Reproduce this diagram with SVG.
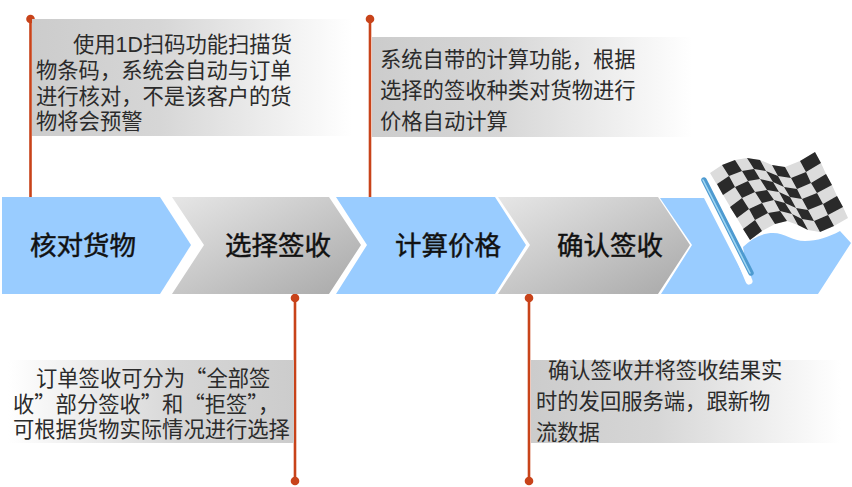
<svg xmlns="http://www.w3.org/2000/svg" width="852" height="487" viewBox="0 0 852 487">
<style>
text{font-family:"Noto Sans CJK SC","Liberation Sans",sans-serif;fill:#2b2b2b}
.d{font-size:21.3px}
.la{font-family:"Liberation Sans",sans-serif}
.t{font-size:26.5px;fill:#111;stroke:#111;stroke-width:.45}
.b{fill:#9cf}
.g{fill:url(#cg)}
.l{stroke:#c8431a;stroke-width:2.6;fill:none}
.p{fill:#c8431a}
</style>
<defs>
<linearGradient id="gr"><stop offset="0" stop-color="#ccc"/><stop offset=".4" stop-color="#d6d6d6"/><stop offset="1" stop-color="#fff"/></linearGradient>
<linearGradient id="gl"><stop offset="0" stop-color="#fff"/><stop offset=".6" stop-color="#d6d6d6"/><stop offset="1" stop-color="#ccc"/></linearGradient>
<linearGradient id="cg" x1="0" y1="0" x2="1" y2="1"><stop offset="0" stop-color="#e6e6e6"/><stop offset="1" stop-color="#a8a8a8"/></linearGradient>
<filter id="soft" x="-5%" y="-5%" width="110%" height="110%"><feGaussianBlur stdDeviation=".55"/></filter>
</defs>
<rect width="852" height="487" fill="#fff"/>
<g id="connectors">
<path class="l" d="M30.5 19V197M370 19V197M295 298V481M529 298V481"/>
<circle class="p" cx="30.5" cy="19" r="4.3"/><circle class="p" cx="370" cy="19" r="4.3"/>
<circle class="p" cx="295" cy="298" r="4.3"/><circle class="p" cx="295" cy="481" r="4.3"/>
<circle class="p" cx="529" cy="298" r="4.3"/><circle class="p" cx="529" cy="481" r="4.3"/>
</g>
<g id="note1"><rect x="32" y="19" width="320" height="117" fill="url(#gr)"/>
<text class="d"><tspan x="73" y="52">使用<tspan class="la">1D</tspan>扫码功能扫描货</tspan><tspan x="36" y="78">物条码，系统会自动与订单</tspan><tspan x="36" y="104">进行核对，不是该客户的货</tspan><tspan x="36" y="129">物将会预警</tspan></text></g>
<g id="note2"><rect x="372" y="37" width="320" height="100" fill="url(#gr)"/>
<text class="d"><tspan x="380" y="67">系统自带的计算功能，根据</tspan><tspan x="380" y="98">选择的签收种类对货物进行</tspan><tspan x="380" y="129">价格自动计算</tspan></text></g>
<g id="note3"><rect x="8" y="360" width="286" height="83" fill="url(#gl)"/>
<text class="d"><tspan x="36" y="386">订单签收可分为“全部签</tspan><tspan x="13" y="412">收”部分签收”和“拒签”，</tspan><tspan x="13" y="437">可根据货物实际情况进行选择</tspan></text></g>
<g id="note4"><rect x="531" y="360" width="310" height="83" fill="url(#gr)"/>
<text class="d"><tspan x="548" y="378">确认签收并将签收结果实</tspan><tspan x="536" y="409">时的发回服务端，跟新物</tspan><tspan x="536" y="440">流数据</tspan></text></g>
<g id="step1"><path class="b" d="M2 197H160L191 245L160 294H2Z"/><text class="t" x="30" y="255">核对货物</text></g>
<g id="step2"><path class="g" d="M172 197H329L361 245L329 294H172L204 245Z"/><text class="t" x="225" y="255">选择签收</text></g>
<g id="step3"><path class="b" d="M336 197H495L526 245L495 294H336L367 245Z"/><text class="t" x="395" y="255">计算价格</text></g>
<g id="step4"><path class="g" d="M498 197H658L690 245L658 294H498L530 245Z"/><text class="t" x="557" y="255">确认签收</text></g>
<g id="finish">
<path class="b" d="M660 198H704L746 280H748L743 247C752 238 762 233 773 233C785 233 792 241 805 241C817 241 829 237 840 231L851 243L818 294H661L692 245Z"/>
<path d="M708 182L749 281" stroke="#fff" stroke-width="7" stroke-linecap="round" fill="none"/>
<path d="M740 250C750 235 762 231 773 231C785 231 792 239 805 239C817 239 829 235 840 229L832 222L790 215L745 235Z" fill="#fff"/>
<path d="M710 173L722 165L735 160L747 158L760 160L772 165L785 167L800 161L815 152L821 163L826 174L832 185L837 196L843 207L848 218L834 226L820 232L808 230L798 225L787 221L775 224L762 231L750 240Z" fill="#dcdcdc"/>
<path filter="url(#soft)" fill="#2a2a2a" d="M722 165L735 160L742 171L729 176ZM747 158L760 160L766 171L754 169ZM772 165L785 167L791 178L778 176ZM800 161L815 152L821 163L806 172ZM717 184L729 176L735 187L723 195ZM742 171L754 169L760 179L748 181ZM766 171L778 176L784 187L773 182ZM791 178L806 172L811 183L797 189ZM735 187L748 181L755 192L742 198ZM760 179L773 182L779 192L767 190ZM784 187L797 189L802 199L790 197ZM811 183L826 174L832 185L817 193ZM730 207L742 198L749 209L737 218ZM755 192L767 190L774 200L762 203ZM779 192L790 197L796 208L785 203ZM802 199L817 193L823 204L808 210ZM749 209L762 203L768 213L755 220ZM774 200L785 203L792 214L780 211ZM796 208L808 210L814 221L802 219ZM823 204L837 196L843 207L828 215ZM743 229L755 220L762 231L750 240ZM768 213L780 211L787 221L775 224ZM792 214L802 219L808 230L798 225ZM814 221L828 215L834 226L820 232Z"/>
<path d="M704 180L751 273" stroke="#4d9ad0" stroke-width="5.5" stroke-linecap="round" fill="none"/>
<path d="M703 180L750 273" stroke="#9fd6f2" stroke-width="1.6" stroke-linecap="round" fill="none"/>
</g>
</svg>
